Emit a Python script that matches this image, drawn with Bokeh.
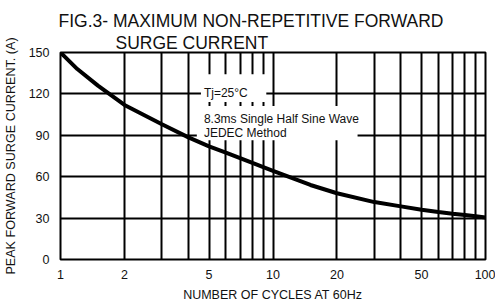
from bokeh.plotting import figure
from bokeh.models import FixedTicker, Title, Range1d
from bokeh.core.properties import value
from bokeh.embed import file_html
from bokeh.resources import INLINE

# data
cycles = [1, 1.2, 1.5, 2, 3, 4, 5, 6, 7, 8, 9, 10, 15, 20, 30, 40, 50, 60, 70, 80, 90, 100]
surge_current = [150, 138, 126, 112, 98, 88.5, 82, 77.5, 73.5, 70, 67, 64.3, 54, 48, 41.6,
                 38.5, 36, 34.4, 33.2, 32.2, 31.3, 30.5]

x_tick_labels = [1, 2, 5, 10, 20, 50, 100]
x_grid = [1, 2, 3, 4, 5, 6, 7, 8, 9, 10, 20, 30, 40, 50, 60, 70, 80, 90, 100]
y_ticks = [0, 30, 60, 90, 120, 150]

note_tj = "Tj=25°C"
note_line1 = "8.3ms Single Half Sine Wave"
note_line2 = "JEDEC Method"

FONT = "Liberation Sans"

p = figure(frame_width=425, frame_height=207, x_axis_type="log",
           x_range=Range1d(1, 100), y_range=Range1d(0, 150),
           output_backend="svg", toolbar_location=None, title=None,
           min_border_left=52, min_border_right=10, min_border_top=0, min_border_bottom=0)

t2 = Title(text="SURGE CURRENT", align="left", offset=55, text_font=FONT,
           text_font_size="17.5px", text_font_style="normal", text_color="#111111", standoff=0,
           text_line_height=0.7)
t1 = Title(text="FIG.3- MAXIMUM NON-REPETITIVE FORWARD", align="left", offset=-2, text_font=FONT,
           text_font_size="17.5px", text_font_style="normal", text_color="#111111", standoff=0,
           text_line_height=0.85)
spacer = Title(text=" ", text_font_size="5px", standoff=0)
p.add_layout(t2, "above")
p.add_layout(t1, "above")
p.add_layout(spacer, "above")

p.outline_line_color = "black"
p.outline_line_width = 2
p.outline_line_alpha = 1
p.background_fill_color = "white"
p.border_fill_color = "white"

p.xaxis.ticker = FixedTicker(ticks=x_tick_labels)
p.yaxis.ticker = FixedTicker(ticks=y_ticks)
p.xgrid.ticker = FixedTicker(ticks=x_grid)
p.ygrid.ticker = FixedTicker(ticks=y_ticks)
p.xaxis.major_label_overrides = {v: str(v) for v in x_tick_labels}
for g in (p.xgrid, p.ygrid):
    g.grid_line_color = "black"
    g.grid_line_width = 2
    g.grid_line_alpha = 1

for ax in (p.xaxis, p.yaxis):
    ax.axis_line_color = None
    ax.major_tick_line_color = None
    ax.minor_tick_line_color = None
    ax.major_label_text_font = FONT
    ax.major_label_text_font_size = "12.5px"
    ax.major_label_text_color = "#111111"
    ax.axis_label_text_font = FONT
    ax.axis_label_text_font_style = "normal"
    ax.axis_label_text_color = "#111111"
p.xaxis.axis_label_text_font_size = "12.5px"
p.yaxis.axis_label_text_font_size = "12.6px"
p.xaxis.major_label_standoff = 4
p.yaxis.major_label_standoff = 5
p.xaxis.axis_label = "NUMBER OF CYCLES AT 60Hz"
p.yaxis.axis_label = "PEAK FORWARD SURGE CURRENT. (A)"
p.xaxis.axis_label_standoff = 6
p.yaxis.axis_label_standoff = 8

# white boxes behind the notes
p.quad(left=[4.58, 4.38], right=[9.3, 25.0], bottom=[114.1, 86.5], top=[134.2, 111.2],
       fill_color="white", line_color=None)

p.line(cycles, surge_current, line_color="black", line_width=4)

p.text(x=[4.73], y=[120.3], text=[note_tj], text_font=value(FONT), text_font_size="12px",
       text_baseline="middle", text_align="left", text_color="#111111")
p.text(x=[4.73, 4.73], y=[102.0, 92.0], text=[note_line1, note_line2], text_font=value(FONT),
       text_font_size="12px", text_baseline="middle", text_align="left", text_color="#111111")

open("out.html", "w").write(file_html(p, INLINE))
